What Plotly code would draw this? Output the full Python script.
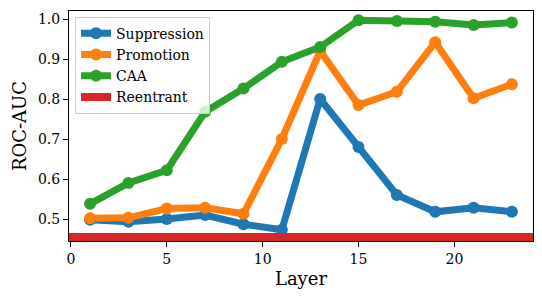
import plotly.graph_objects as go

layers = [1, 3, 5, 7, 9, 11, 13, 15, 17, 19, 21, 23]
suppression = [0.498, 0.493, 0.500, 0.510, 0.487, 0.473, 0.800, 0.680, 0.560, 0.518, 0.528, 0.518]
promotion = [0.502, 0.503, 0.526, 0.528, 0.513, 0.700, 0.920, 0.785, 0.818, 0.942, 0.802, 0.837]
caa = [0.538, 0.590, 0.622, 0.768, 0.826, 0.893, 0.930, 0.997, 0.995, 0.993, 0.985, 0.991]
reentrant = 0.455

series = [("Suppression", suppression, "#1f77b4"),
          ("Promotion", promotion, "#ff7f0e"),
          ("CAA", caa, "#2ca02c")]

font = "DejaVu Serif"
fig = go.Figure()
for name, vals, col in series:
    fig.add_trace(go.Scatter(x=layers, y=vals, name=name, mode="lines+markers",
                             line=dict(color=col, width=7),
                             marker=dict(color=col, size=12)))
fig.add_shape(type="line", xref="paper", x0=0, x1=1, yref="y", y0=reentrant, y1=reentrant,
              line=dict(color="#d62728", width=8), showlegend=True, name="Reentrant", layer="above")

fig.update_layout(
    width=542, height=298,
    margin=dict(l=69, r=9, t=11, b=57),
    paper_bgcolor="white", plot_bgcolor="white",
    font=dict(family=font, size=14, color="black"),
    legend=dict(x=0.013, y=0.975, xanchor="left", yanchor="top",
                bgcolor="rgba(255,255,255,0.8)", bordercolor="#cccccc", borderwidth=1,
                font=dict(size=14, family=font), itemwidth=30, tracegroupgap=0),
    xaxis=dict(range=[-0.1, 24.1], tickvals=[0, 5, 10, 15, 20], showgrid=False, zeroline=False,
               automargin=False,
               showline=True, linecolor="black", linewidth=1, mirror=True,
               ticks="outside", ticklen=5, tickcolor="black",
               title=dict(text="Layer", font=dict(size=18, family=font), standoff=6)),
    yaxis=dict(range=[0.445, 1.02], tickvals=[0.5, 0.6, 0.7, 0.8, 0.9, 1.0], tickformat=".1f",
               showgrid=False, zeroline=False, automargin=False,
               showline=True, linecolor="black", linewidth=1, mirror=True,
               ticks="outside", ticklen=5, tickcolor="black",
               title=dict(text="ROC-AUC", font=dict(size=18, family=font), standoff=6)),
)
fig.write_html("out.html", config={"displayModeBar": False},
               post_script="document.body.style.margin='0px';")
